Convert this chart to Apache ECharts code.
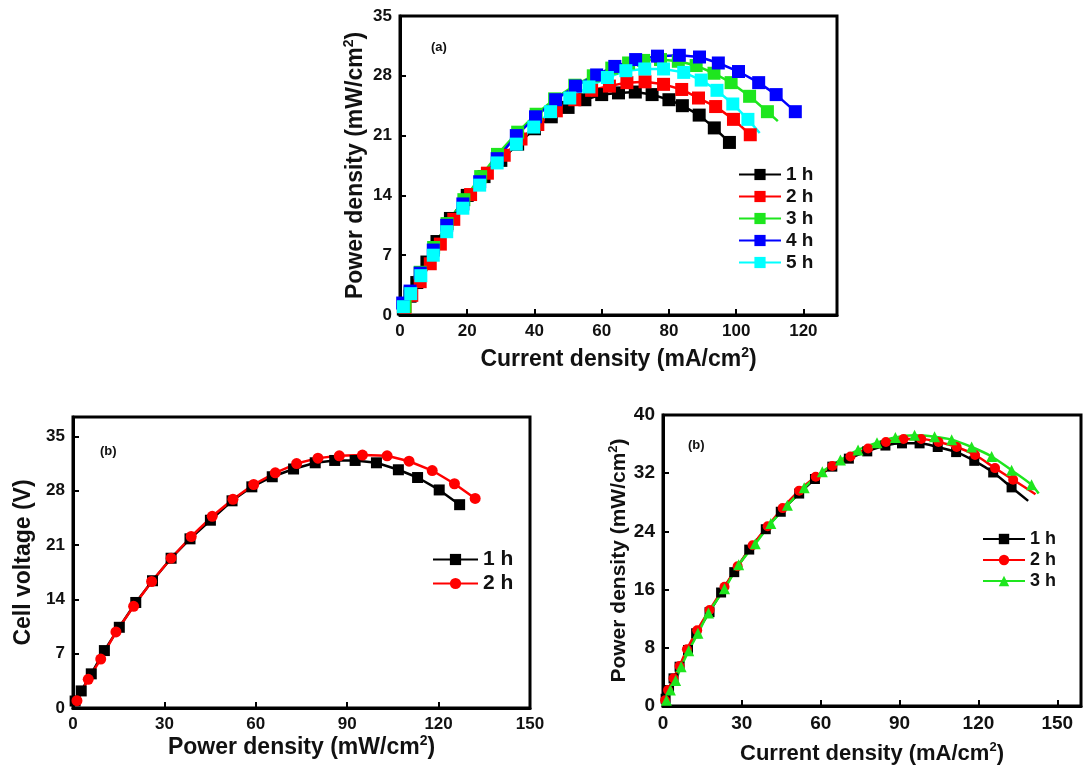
<!DOCTYPE html>
<html>
<head>
<meta charset="utf-8">
<script src="https://cdn.jsdelivr.net/npm/echarts@6/dist/echarts.min.js"></script>
<style>
  html, body { margin: 0; padding: 0; background: #fff; }
  #chart { width: 1084px; height: 768px; }
</style>
</head>
<body>
<div id="chart"></div>
<script>
// ---- panel (a): power density vs current density, 1-5 h ----
const aX1 = [1, 3, 5, 8, 11, 15, 20, 25, 30, 35, 40, 45, 50, 55, 60, 65, 70, 75, 80, 84, 89, 93.5, 98];
const aY1 = [0.7, 2.2, 3.8, 6.2, 8.6, 11.3, 14.0, 16.2, 18.1, 20.0, 21.8, 23.2, 24.3, 25.2, 25.8, 26.0, 26.1, 25.8, 25.2, 24.5, 23.4, 21.9, 20.2];
const aX2 = [1.5, 3.5, 6, 9, 12, 16, 21, 26, 31, 36, 41, 46.5, 52, 57, 62.3, 67.5, 72.9, 78.4, 83.8, 88.8, 93.9, 99.2, 104.2];
const aY2 = [0.9, 2.3, 3.9, 6.0, 8.3, 11.2, 14.1, 16.6, 18.7, 20.6, 22.3, 23.9, 25.2, 26.3, 26.8, 27.2, 27.3, 27.0, 26.4, 25.4, 24.4, 22.9, 21.1];
const aX3 = [1.5, 3, 6, 10, 14, 19, 24, 29, 35, 40.5, 46, 52, 57.5, 63, 68, 72.5, 77.5, 82.8, 88.1, 93.4, 98.5, 104, 109.3, 112.4];
const aY3 = [1.0, 2.6, 5.0, 7.9, 10.7, 13.5, 16.2, 18.8, 21.4, 23.5, 25.3, 26.9, 28.0, 28.9, 29.5, 29.8, 29.9, 29.7, 29.2, 28.3, 27.2, 25.6, 23.8, 22.7];
const aX4 = [0.8, 3, 6, 9.9, 13.9, 18.7, 23.7, 28.9, 34.6, 40.3, 46.3, 52.2, 58.5, 63.9, 70.1, 76.6, 83.1, 89.1, 94.7, 100.7, 106.7, 111.9, 117.6];
const aY4 = [1.4, 2.8, 4.9, 7.6, 10.5, 13.0, 15.6, 18.3, 21.0, 23.2, 25.2, 26.8, 28.1, 29.1, 29.9, 30.3, 30.4, 30.2, 29.5, 28.5, 27.2, 25.8, 23.8];
const aX5 = [1.0, 3.2, 6.2, 9.9, 13.9, 18.7, 23.7, 28.9, 34.6, 39.8, 44.8, 50.5, 56.2, 61.7, 67.2, 72.8, 78.4, 84.4, 89.6, 94.3, 99.0, 103.5, 107];
const aY5 = [0.97, 2.5, 4.6, 7.0, 9.75, 12.5, 15.2, 17.8, 20.0, 22.0, 23.8, 25.4, 26.7, 27.8, 28.6, 28.8, 28.8, 28.4, 27.5, 26.3, 24.7, 22.9, 21.3];

// ---- panel (b) left: cell voltage vs power density, 1-2 h ----
const bX1 = [0.7, 2.7, 6.0, 10.3, 15.2, 20.6, 26.1, 32.2, 38.4, 45.1, 52.2, 58.7, 65.4, 72.4, 79.5, 85.9, 92.6, 99.6, 106.8, 113.1, 120.2, 126.9];
const bY1 = [0.9, 2.2, 4.4, 7.4, 10.4, 13.6, 16.4, 19.3, 21.8, 24.2, 26.7, 28.5, 29.8, 30.8, 31.6, 31.9, 31.9, 31.6, 30.7, 29.7, 28.1, 26.2];
const bX2 = [1.3, 5.0, 9.1, 14.1, 19.9, 25.8, 32.2, 38.8, 45.7, 52.5, 59.3, 66.4, 73.4, 80.4, 87.4, 95.0, 103.1, 110.3, 117.9, 125.2, 132.0];
const bY2 = [0.95, 3.7, 6.3, 9.8, 13.1, 16.3, 19.3, 22.1, 24.7, 26.9, 28.8, 30.3, 31.5, 32.2, 32.5, 32.6, 32.5, 31.8, 30.6, 28.9, 27.0];

// ---- panel (b) right: power density vs current density, 1-3 h ----
const cX1 = [1.0, 2.3, 4.0, 6.3, 9.5, 12.6, 17.7, 22.1, 27.1, 32.8, 39.1, 44.8, 51.8, 57.8, 64.4, 70.7, 77.7, 84.6, 90.9, 97.6, 104.5, 111.5, 118.4, 125.6, 132.6, 138.9];
const cY1 = [1.0, 2.2, 3.8, 5.4, 7.7, 10.0, 12.9, 15.6, 18.4, 21.5, 24.3, 26.7, 29.2, 31.2, 32.9, 34.0, 35.0, 35.8, 36.1, 36.1, 35.6, 34.9, 33.7, 32.1, 30.05, 28.2];
const cX2 = [0.8, 1.9, 4.0, 6.3, 9.1, 13.0, 17.7, 23.4, 28.4, 34.1, 39.8, 45.5, 51.8, 58.1, 64.4, 71.3, 78.0, 84.8, 91.5, 98.2, 104.8, 111.7, 118.7, 126.3, 133.2, 141.7];
const cY2 = [0.8, 2.2, 3.8, 5.5, 7.8, 10.4, 13.2, 16.4, 19.2, 22.1, 24.7, 27.2, 29.6, 31.5, 33.0, 34.3, 35.4, 36.3, 36.7, 36.7, 36.3, 35.6, 34.5, 32.7, 31.1, 29.1];
const cX3 = [1.3, 2.8, 4.8, 6.9, 9.8, 13.3, 17.3, 23.4, 28.8, 35.1, 41.0, 47.3, 53.7, 60.6, 67.5, 74.2, 81.4, 88.4, 95.7, 103.3, 109.8, 117.4, 125.0, 132.6, 140.2, 142.9];
const cY3 = [0.8, 2.2, 3.5, 5.4, 7.6, 10.0, 12.8, 16.1, 19.4, 22.3, 25.1, 27.6, 30.0, 32.2, 33.8, 35.2, 36.2, 36.9, 37.2, 37.0, 36.6, 35.6, 34.3, 32.4, 30.4, 29.2];

const legendNames = ['1 h', '2 h', '3 h', '4 h', '5 h'];

let myChart = echarts.init(document.getElementById('chart'));
const FONT = '"Liberation Sans", Arial, sans-serif';

// last point of some curves is only the end of the line, no marker on it
function pts(xs, ys, tail) {
    return xs.map((x, i) => (tail && i === xs.length - 1) ? { value: [x, ys[i]], symbol: 'none' } : [x, ys[i]]);
}

function mkSeries(panel, idx, name, color, symbol, size, xs, ys, tail, smooth) {
    return {
        name: panel + '|' + name,
        type: 'line',
        xAxisIndex: idx,
        yAxisIndex: idx,
        data: pts(xs, ys, tail),
        symbol: symbol,
        symbolSize: size,
        smooth: smooth || false,
        itemStyle: { color: color },
        lineStyle: { color: color, width: 2.5 },
        z: 2
    };
}

function mkAxis(idx, max, interval, name, fs, nfs, gap) {
    return {
        type: 'value', gridIndex: idx, min: 0, max: max, interval: interval,
        name: name, nameLocation: 'middle', nameGap: gap,
        nameTextStyle: {
            fontFamily: FONT, fontWeight: 'bold', fontSize: nfs, color: '#111',
            rich: { sup: { fontFamily: FONT, fontWeight: 'bold', fontSize: Math.round(nfs * 0.6), color: '#111', padding: [0, 0, Math.round(nfs * 0.6), 0] } }
        },
        axisLine: { show: true, lineStyle: { color: '#000', width: 3 } },
        axisTick: { show: true, inside: true, length: 6, lineStyle: { color: '#000', width: 2 } },
        axisLabel: {
            fontFamily: FONT, fontWeight: 'bold', fontSize: fs, color: '#111', margin: 8,
            // max may sit off the tick grid: only label real multiples of interval
            formatter: v => Math.abs(v / interval - Math.round(v / interval)) < 1e-6 ? String(v) : ''
        },
        splitLine: { show: false }
    };
}

let option = {
    backgroundColor: '#fff',
    animation: false,
    grid: [
        { left: 400, top: 16, width: 437, height: 299, show: true, borderColor: '#000', borderWidth: 3 },
        { left: 73, top: 417, width: 457, height: 291, show: true, borderColor: '#000', borderWidth: 3 },
        { left: 663, top: 415, width: 420, height: 291, show: true, borderColor: '#000', borderWidth: 3 }
    ],
    xAxis: [
        mkAxis(0, 130, 20, 'Current density (mA/cm{sup|2})', 17, 23, 31),
        mkAxis(1, 150, 30, 'Power density (mW/cm{sup|2})', 17, 23, 25),
        mkAxis(2, 159, 30, 'Current density (mA/cm{sup|2})', 19, 22, 35)
    ],
    yAxis: [
        mkAxis(0, 35, 7, 'Power density (mW/cm{sup|2})', 17, 23, 30),
        mkAxis(1, 37.5, 7, 'Cell voltage (V)', 17, 23, 38),
        mkAxis(2, 40, 8, 'Power density (mW/cm{sup|2})', 19, 21, 23)
    ],
    legend: [
        {
            data: legendNames.map(n => 'a|' + n),
            left: 733, top: 160, orient: 'vertical', itemWidth: 42, itemHeight: 14, itemGap: 3,
            textStyle: { fontFamily: FONT, fontWeight: 'bold', fontSize: 19, color: '#111' },
            formatter: n => n.split('|')[1]
        },
        {
            data: legendNames.slice(0, 2).map(n => 'b|' + n),
            left: 427, top: 544, orient: 'vertical', itemWidth: 45, itemHeight: 14, itemGap: 3,
            textStyle: { fontFamily: FONT, fontWeight: 'bold', fontSize: 21, color: '#111' },
            formatter: n => n.split('|')[1]
        },
        {
            data: legendNames.slice(0, 3).map(n => 'c|' + n),
            left: 977, top: 525, orient: 'vertical', itemWidth: 42, itemHeight: 13, itemGap: 3,
            textStyle: { fontFamily: FONT, fontWeight: 'bold', fontSize: 18, color: '#111' },
            formatter: n => n.split('|')[1]
        }
    ],
    graphic: [
        { type: 'text', left: 431, top: 41, style: { text: '(a)', font: 'bold 13px ' + FONT, fill: '#111' } },
        { type: 'text', left: 100, top: 445, style: { text: '(b)', font: 'bold 13px ' + FONT, fill: '#111' } },
        { type: 'text', left: 688, top: 439, style: { text: '(b)', font: 'bold 13px ' + FONT, fill: '#111' } }
    ],
    series: [
        mkSeries('a', 0, '1 h', '#000000', 'rect', 13, aX1, aY1, false),
        mkSeries('a', 0, '2 h', '#ff0000', 'rect', 13, aX2, aY2, false),
        mkSeries('a', 0, '3 h', '#1ee61e', 'rect', 13, aX3, aY3, true),
        mkSeries('a', 0, '4 h', '#0000ff', 'rect', 13, aX4, aY4, false),
        mkSeries('a', 0, '5 h', '#00ffff', 'rect', 13, aX5, aY5, true),
        mkSeries('b', 1, '1 h', '#000000', 'rect', 11, bX1, bY1, false),
        mkSeries('b', 1, '2 h', '#ff0000', 'circle', 11, bX2, bY2, false),
        mkSeries('c', 2, '1 h', '#000000', 'rect', 10, cX1, cY1, true, 0.3),
        mkSeries('c', 2, '2 h', '#ff0000', 'circle', 10, cX2, cY2, true, 0.3),
        mkSeries('c', 2, '3 h', '#1ee61e', 'triangle', 11, cX3, cY3, true, 0.3)
    ]
};
myChart.setOption(option);
</script>
</body>
</html>
